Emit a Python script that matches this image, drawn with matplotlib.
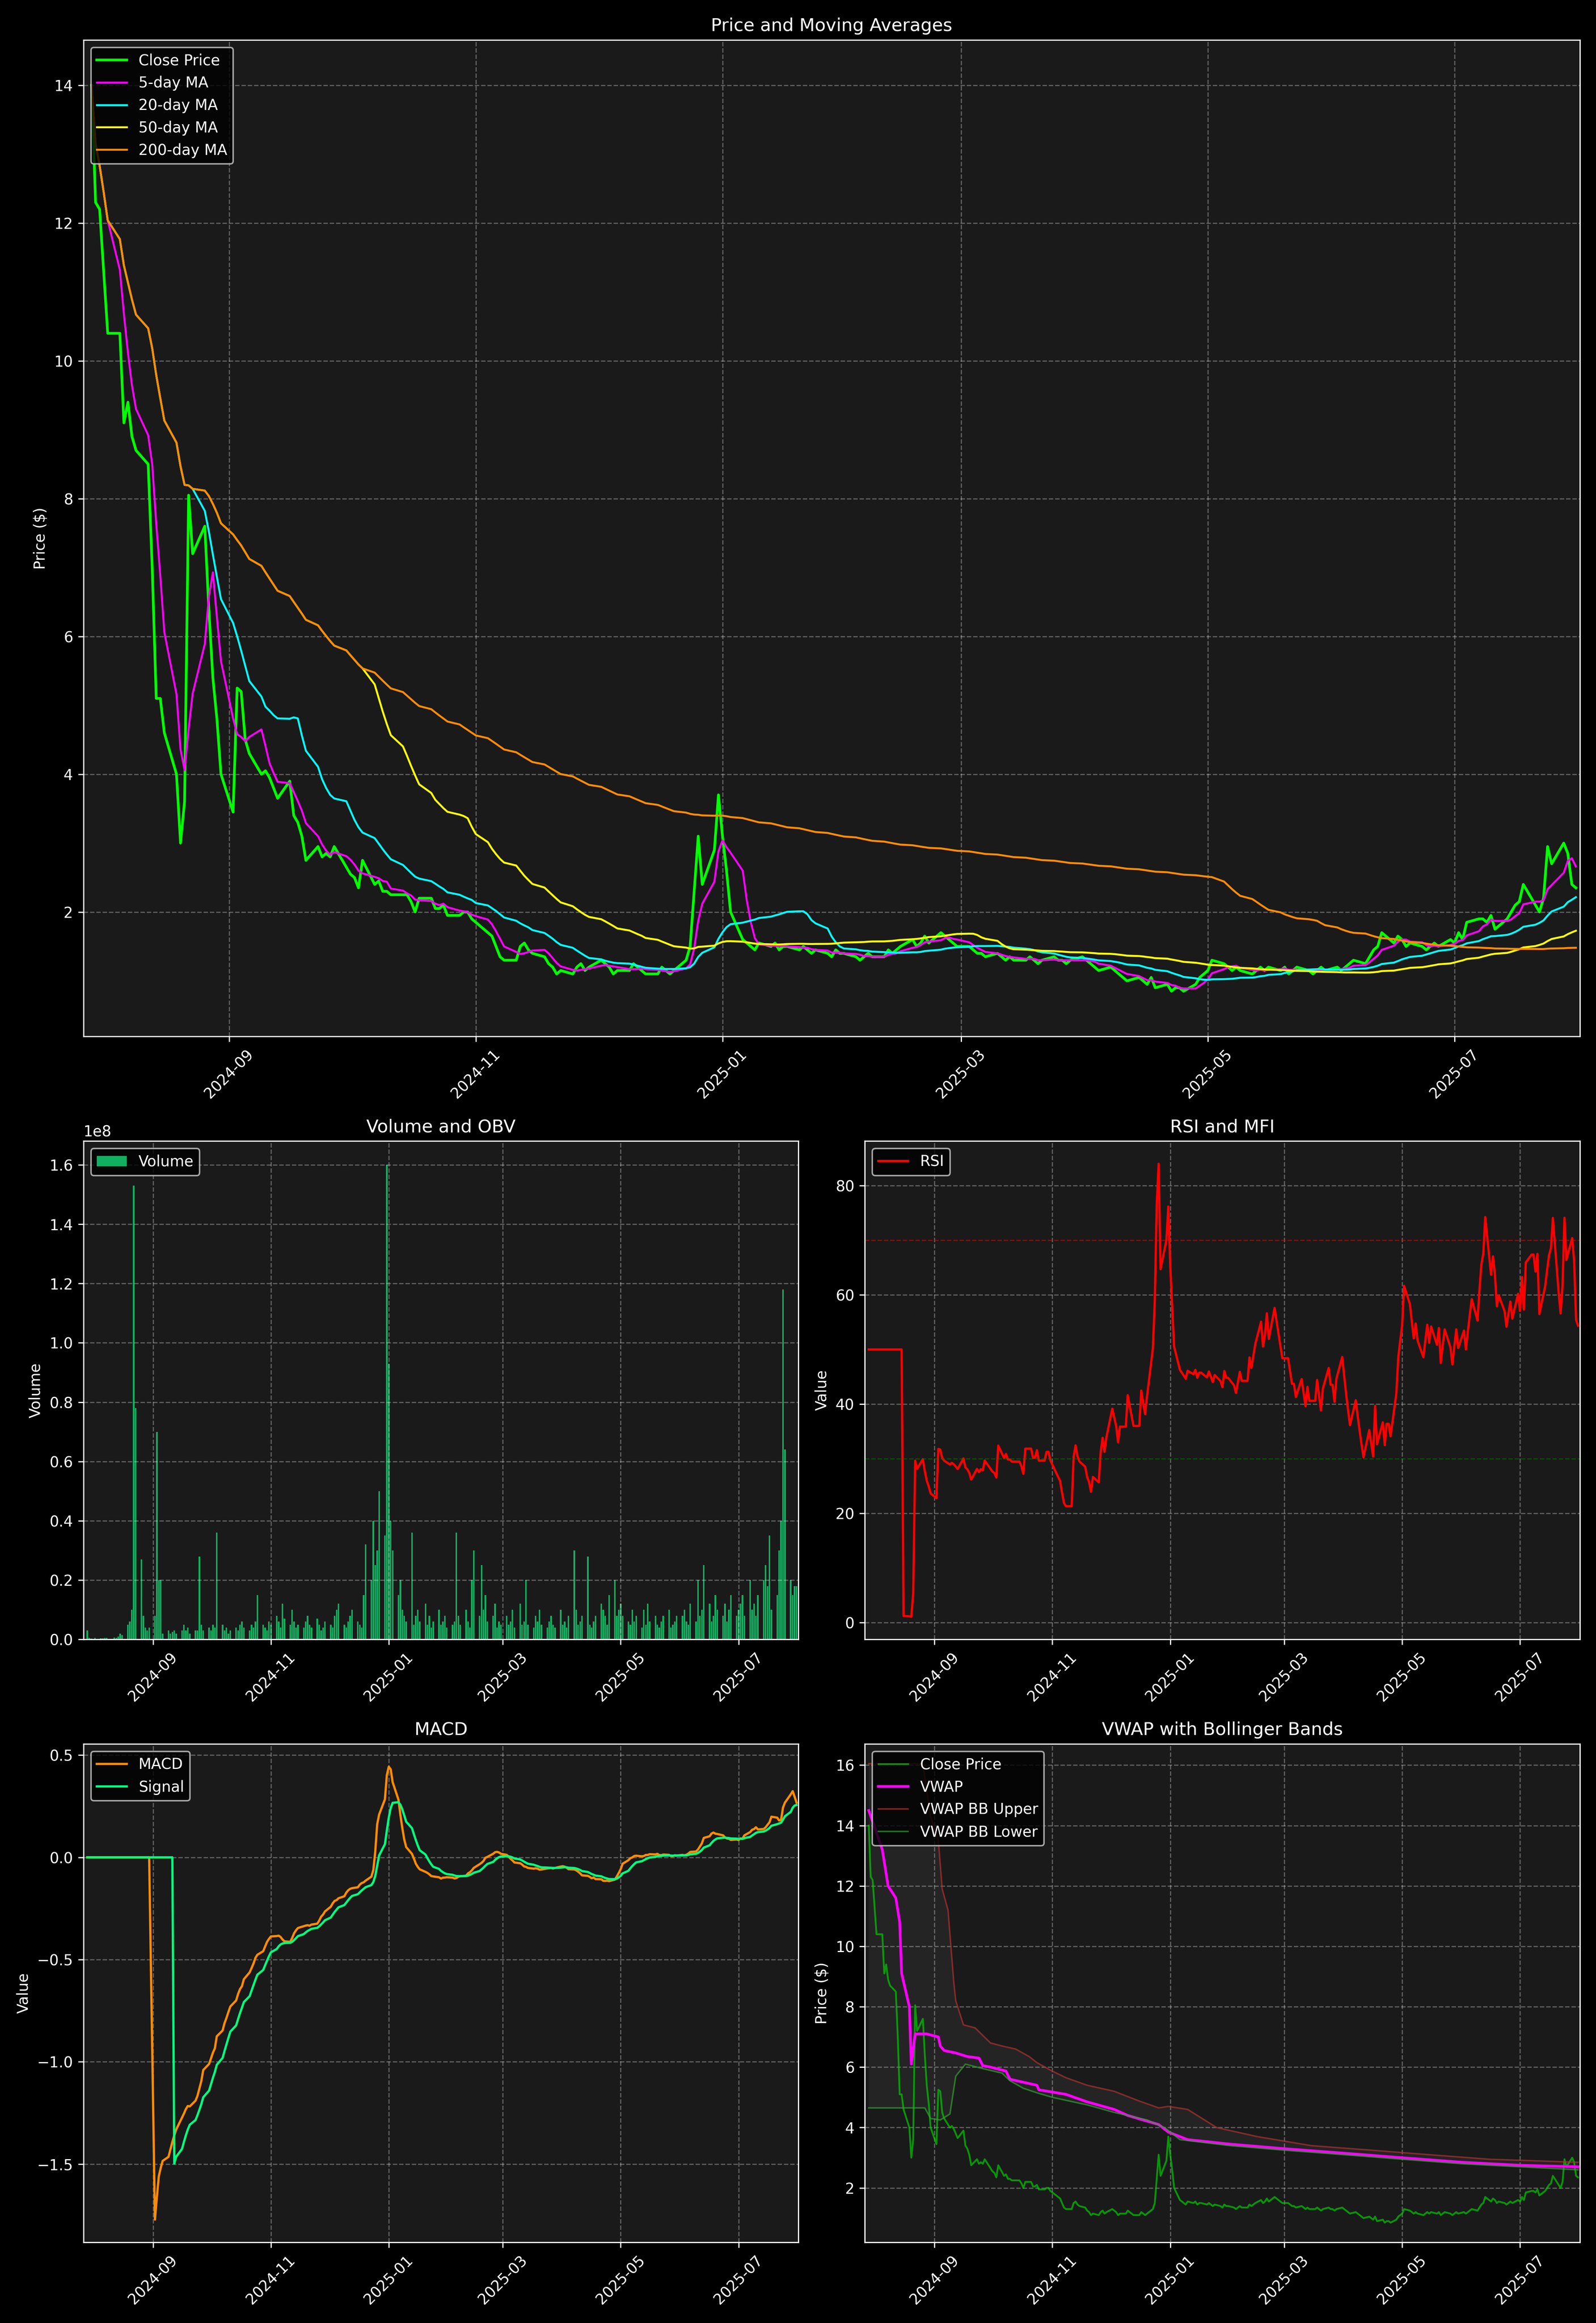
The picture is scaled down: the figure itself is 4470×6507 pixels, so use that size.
import numpy as np
import pandas as pd
import matplotlib
matplotlib.use("Agg")
import matplotlib.pyplot as plt
import matplotlib.dates as mdates

# daily closes, 2024-07-29 .. 2025-07-31 (business days)
close_vals = [
    14.0, 12.3, 12.2,
    11.3, 10.4, 10.4, 9.1, 9.4, 8.9, 8.7, 8.5, 7.0, 5.1, 5.1, 4.6, 4.0, 3.0, 3.6, 8.05, 7.2, 7.6, 6.4, 5.4, 4.8, 4.0,
    3.45, 5.25, 5.2, 4.5, 4.3, 4.0, 4.05, 3.95, 3.8, 3.65, 3.9, 3.4, 3.3, 3.1, 2.75, 2.95, 2.8, 2.85, 2.8, 2.95, 2.65,
    2.55, 2.5, 2.35, 2.75, 2.4, 2.45, 2.3, 2.3, 2.25, 2.25, 2.25, 2.15, 2.0, 2.2, 2.2, 2.05, 2.05, 2.1, 1.95, 1.95, 2.0, 2.0, 1.9,
    1.85, 1.7, 1.65, 1.5, 1.35, 1.3, 1.3, 1.5, 1.55, 1.45, 1.4, 1.35, 1.25, 1.2, 1.1, 1.15, 1.1, 1.2, 1.25, 1.15, 1.2,
    1.3, 1.25, 1.2, 1.1, 1.15, 1.15, 1.25, 1.2, 1.15, 1.1, 1.1, 1.2, 1.15, 1.1, 1.15, 1.3, 1.5, 2.3, 3.1, 2.4, 2.9, 3.7,
    3.1, 2.6, 2.0, 1.6, 1.55, 1.5, 1.45, 1.55, 1.5, 1.55, 1.45, 1.5, 1.5, 1.45, 1.5, 1.45, 1.4, 1.45, 1.4, 1.35, 1.45, 1.4, 1.4,
    1.35, 1.3, 1.35, 1.4, 1.35, 1.35, 1.45, 1.4, 1.45, 1.5, 1.6, 1.5, 1.55, 1.65, 1.55, 1.7, 1.65, 1.6, 1.55, 1.5,
    1.5, 1.45, 1.4, 1.4, 1.35, 1.4, 1.35, 1.3, 1.35, 1.3, 1.3, 1.35, 1.3, 1.25, 1.3, 1.35, 1.3, 1.3, 1.25, 1.3, 1.35,
    1.3, 1.25, 1.2, 1.15, 1.2, 1.15, 1.1, 1.05, 1.0, 1.05, 1.0, 0.95, 1.05, 0.9, 0.95, 0.85, 0.9, 0.9, 0.85, 0.95, 1.05, 1.1,
    1.15, 1.3, 1.25, 1.2, 1.15, 1.2, 1.15, 1.1, 1.15, 1.2, 1.15, 1.2, 1.15, 1.2, 1.1, 1.15, 1.2, 1.15, 1.1, 1.15, 1.2, 1.15,
    1.2, 1.15, 1.2, 1.25, 1.3, 1.25, 1.35, 1.45, 1.5, 1.7, 1.55, 1.65, 1.6, 1.5, 1.55, 1.5, 1.45, 1.5, 1.55, 1.5, 1.6,
    1.55, 1.7, 1.6, 1.85, 1.9, 1.9, 1.85, 1.95, 1.75, 1.9, 2.0, 2.1, 2.15, 2.4, 2.1, 2.0, 2.2, 2.95, 2.7, 3.0, 2.85, 2.4, 2.35,
]

# daily volume in millions of shares
volume_vals = [
    3, 0.5, 0.3,
    0.1, 0.5, 0.4, 0.4, 0.5, 0.5, 0.1, 0.6, 0.5, 1, 2, 1.5, 5, 6, 10, 153, 78, 27, 8, 4, 3, 4,
    8, 70, 20, 20, 2, 3, 2, 2.5, 3, 2, 3, 5, 3, 4, 2, 3, 3, 28, 5, 3, 4,
    3, 5, 4, 36, 5, 3, 4, 2, 3, 4, 3, 5, 6, 4, 3, 5, 4, 6, 15, 5, 4, 3, 6,
    5, 8, 6, 4, 12, 7, 5, 10, 6, 4, 5, 4, 6, 8, 5, 4, 7, 5, 3, 4, 6,
    5, 4, 8, 10, 12, 5, 4, 6, 8, 10, 6, 5, 4, 15, 32, 20, 40, 25, 30, 50, 35, 160,
    93, 40, 30, 15, 20, 10, 8, 6, 36, 5, 8, 10, 6, 12, 5, 8, 4, 6, 10, 5, 6, 8, 4,
    5, 6, 36, 8, 5, 10, 6, 4, 20, 30, 8, 25, 10, 15, 6, 8, 12, 4, 6, 5,
    8, 5, 6, 10, 4, 12, 5, 6, 20, 5, 4, 8, 6, 10, 5, 4, 6, 8, 5, 4, 10,
    5, 6, 4, 8, 30, 10, 5, 6, 8, 28, 5, 4, 6, 8, 12, 10, 8, 5, 15, 20, 8, 10,
    12, 8, 6, 5, 10, 6, 8, 4, 10, 5, 12, 6, 8, 5, 4, 6, 8, 10, 4, 5, 6, 8,
    8, 10, 6, 5, 12, 6, 20, 8, 10, 25, 12, 6, 8, 15, 10, 8, 12, 6, 10, 15, 8,
    10, 12, 15, 8, 20, 10, 12, 8, 15, 20, 25, 18, 35, 10, 15, 30, 40, 118, 64, 20, 15, 18, 18,
]

# VWAP and its Bollinger bands at key dates
vwap_dates = ["2024-07-29", "2024-08-05", "2024-08-08", "2024-08-12", "2024-08-14", "2024-08-15",
              "2024-08-19", "2024-08-20", "2024-08-22", "2024-08-28", "2024-09-03", "2024-09-04",
              "2024-09-06", "2024-09-12", "2024-09-18", "2024-09-24", "2024-09-26", "2024-09-30",
              "2024-10-08", "2024-10-10", "2024-10-24", "2024-10-25", "2024-11-08", "2024-11-19",
              "2024-12-03", "2024-12-10", "2024-12-26", "2024-12-31", "2025-01-10", "2025-02-01",
              "2025-03-01", "2025-04-01", "2025-05-01", "2025-06-01", "2025-07-01", "2025-07-31"]
vwap_vals = [14.5, 13.2, 12.0, 11.6, 10.8, 9.1, 8.0, 6.1, 7.1, 7.1, 7.0, 6.7,
             6.55, 6.47, 6.35, 6.3, 6.05, 6.0, 5.87, 5.6, 5.4, 5.25, 5.1, 4.85,
             4.6, 4.4, 4.1, 3.85, 3.6, 3.45, 3.3, 3.15, 3.0, 2.85, 2.75, 2.7]

bb_up_dates = ["2024-07-29", "2024-08-26", "2024-08-30", "2024-09-03", "2024-09-05", "2024-09-08",
               "2024-09-11", "2024-09-12", "2024-09-16", "2024-09-22", "2024-09-30", "2024-10-06",
               "2024-10-13", "2024-10-20", "2024-10-24", "2024-10-31", "2024-11-08", "2024-11-19",
               "2024-12-03", "2024-12-15", "2024-12-26", "2024-12-31", "2025-01-10", "2025-01-25",
               "2025-02-15", "2025-03-15", "2025-04-15", "2025-05-15", "2025-06-15", "2025-07-31"]
bb_up_vals = [16.05, 16.05, 14.3, 13.5, 11.9, 11.2, 8.8, 8.2, 7.4, 7.3, 6.8, 6.7,
              6.6, 6.35, 6.15, 5.9, 5.65, 5.4, 5.2, 4.9, 4.65, 4.7, 4.6, 4.0,
              3.7, 3.4, 3.25, 3.1, 2.95, 2.85]

bb_lo_dates = ["2024-07-29", "2024-08-27", "2024-08-30", "2024-09-04", "2024-09-09", "2024-09-12",
               "2024-09-17", "2024-09-26", "2024-10-06", "2024-10-10", "2024-10-17", "2024-10-24",
               "2024-11-01", "2024-11-19", "2024-12-03", "2024-12-20", "2024-12-29", "2025-01-06",
               "2025-02-01", "2025-03-01", "2025-04-01", "2025-05-01", "2025-06-01", "2025-07-01",
               "2025-07-31"]
bb_lo_vals = [4.65, 4.65, 4.3, 4.25, 4.45, 5.7, 6.1, 5.95, 5.8, 5.55, 5.3, 5.15,
              5.0, 4.75, 4.5, 4.25, 4.0, 3.6, 3.4, 3.25, 3.1, 2.95, 2.8, 2.7, 2.6]

n = min(len(close_vals), len(volume_vals))
dates = pd.bdate_range("2024-07-29", periods=n)
df = pd.DataFrame({"close": close_vals[:n], "volume": np.array(volume_vals[:n]) * 1e6}, index=dates)

for w in [5, 20, 50, 200]:
    df[f"ma{w}"] = df["close"].rolling(w, min_periods=1).mean()

delta = df["close"].diff()
gain = delta.clip(lower=0).ewm(alpha=1 / 14, min_periods=14, adjust=False).mean()
loss = (-delta.clip(upper=0)).ewm(alpha=1 / 14, min_periods=14, adjust=False).mean()
df["rsi"] = (100 - 100 / (1 + gain / loss.replace(0, 1e-9))).fillna(50)

ema12 = df["close"].ewm(span=12, min_periods=12, adjust=False).mean()
ema26 = df["close"].ewm(span=26, min_periods=26, adjust=False).mean()
macd = ema12 - ema26
df["macd"] = macd.fillna(0)
df["signal"] = macd.ewm(span=9, min_periods=9, adjust=False).mean().fillna(0)

vw_x = pd.to_datetime(vwap_dates)
up_x = pd.to_datetime(bb_up_dates)
lo_x = pd.to_datetime(bb_lo_dates)

plt.style.use("dark_background")
fig = plt.figure(figsize=(14.9, 21.69))
gs = fig.add_gridspec(3, 2, height_ratios=[2, 1, 1])
ax1 = fig.add_subplot(gs[0, :])
ax2 = fig.add_subplot(gs[1, 0])
ax3 = fig.add_subplot(gs[1, 1])
ax4 = fig.add_subplot(gs[2, 0])
ax5 = fig.add_subplot(gs[2, 1])

ax1.plot(df.index, df["close"], color="#00ff00", lw=1.8, label="Close Price")
ax1.plot(df.index, df["ma5"], color="magenta", lw=1.3, label="5-day MA")
ax1.plot(df.index, df["ma20"], color="cyan", lw=1.3, label="20-day MA")
ax1.plot(df.index, df["ma50"], color="yellow", lw=1.3, label="50-day MA")
ax1.plot(df.index, df["ma200"], color="darkorange", lw=1.3, label="200-day MA")
ax1.set_title("Price and Moving Averages")
ax1.set_ylabel("Price ($)")
ax1.legend(loc="upper left")

ax2.bar(df.index, df["volume"], color="#10b060", width=0.8, label="Volume")
ax2.set_title("Volume and OBV")
ax2.set_ylabel("Volume")
ax2.legend(loc="upper left")

ax3.plot(df.index, df["rsi"], color="red", lw=1.5, label="RSI")
ax3.axhline(70, color="red", ls="--", lw=0.8, alpha=0.5)
ax3.axhline(30, color="green", ls="--", lw=0.8, alpha=0.5)
ax3.set_title("RSI and MFI")
ax3.set_ylabel("Value")
ax3.legend(loc="upper left")

ax4.plot(df.index, df["macd"], color="darkorange", lw=1.5, label="MACD")
ax4.plot(df.index, df["signal"], color="#00ff7f", lw=1.5, label="Signal")
ax4.set_title("MACD")
ax4.set_ylabel("Value")
ax4.legend(loc="upper left")

ax5.plot(df.index, df["close"], color="#00cc00", lw=1.2, alpha=0.7, label="Close Price")
ax5.plot(vw_x, vwap_vals, color="magenta", lw=1.8, label="VWAP")
ax5.plot(up_x, bb_up_vals, color="#b03030", lw=1, alpha=0.7, label="VWAP BB Upper")
ax5.plot(lo_x, bb_lo_vals, color="#30a030", lw=1, alpha=0.7, label="VWAP BB Lower")
ax5.fill(np.concatenate([mdates.date2num(up_x), mdates.date2num(lo_x)[::-1]]),
         np.concatenate([bb_up_vals, bb_lo_vals[::-1]]), color="gray", alpha=0.1, lw=0)
ax5.set_ylim(0.2, 16.7)
ax5.set_title("VWAP with Bollinger Bands")
ax5.set_ylabel("Price ($)")
ax5.legend(loc="upper left")

xlo = dates[0] - pd.Timedelta(days=2)
xhi = dates[-1] + pd.Timedelta(days=1)
for ax in [ax1, ax2, ax3, ax4, ax5]:
    ax.set_facecolor("#1a1a1a")
    ax.grid(True, ls="--", alpha=0.3)
    ax.set_xlim(xlo, xhi)
    ax.xaxis.set_major_locator(mdates.MonthLocator(bymonth=[1, 3, 5, 7, 9, 11]))
    ax.xaxis.set_major_formatter(mdates.DateFormatter("%Y-%m"))
    ax.tick_params(axis="x", rotation=45)

fig.tight_layout()
fig.savefig("out.png", dpi=300, facecolor="black")
